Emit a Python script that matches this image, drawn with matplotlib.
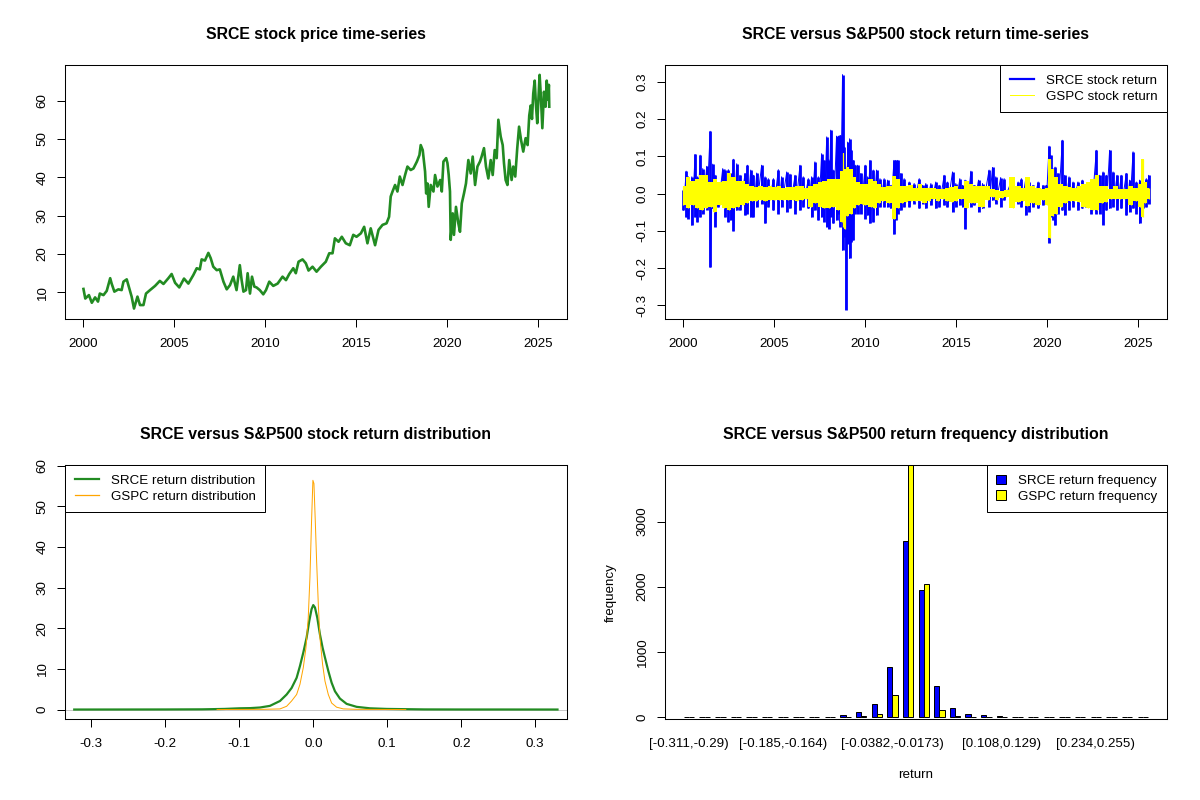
import numpy as np
import matplotlib
matplotlib.use('Agg')
import matplotlib.pyplot as plt
from matplotlib.lines import Line2D
from matplotlib.patches import Patch

plt.rcParams['font.family'] = ['Liberation Sans', 'DejaVu Sans']
plt.rcParams['axes.unicode_minus'] = False

# ---- SRCE price ----
p_year = [2000.0, 2000.1, 2000.3, 2000.46, 2000.64, 2000.8, 2000.9, 2001.1, 2001.28, 2001.47,
          2001.55, 2001.7, 2001.92, 2002.1, 2002.2, 2002.38, 2002.47, 2002.65, 2002.78, 2002.97,
          2003.11, 2003.3, 2003.44, 2003.66, 2003.94, 2004.2, 2004.4, 2004.67, 2004.85, 2005.04,
          2005.27, 2005.53, 2005.77, 2006.04, 2006.23, 2006.4, 2006.5, 2006.68, 2006.87, 2007.0,
          2007.14, 2007.33, 2007.5, 2007.7, 2007.88, 2008.06, 2008.24, 2008.42, 2008.6, 2008.7,
          2008.8, 2008.94, 2009.03, 2009.16, 2009.27, 2009.4, 2009.52, 2009.7, 2009.89, 2010.04,
          2010.22, 2010.44, 2010.68, 2010.95, 2011.14, 2011.32, 2011.54, 2011.68, 2011.83, 2012.05,
          2012.23, 2012.38, 2012.6, 2012.82, 2013.06, 2013.33, 2013.52, 2013.7, 2013.83, 2014.03,
          2014.21, 2014.43, 2014.65, 2014.84, 2015.02, 2015.26, 2015.44, 2015.62, 2015.8, 2016.04,
          2016.23, 2016.45, 2016.67, 2016.81, 2016.9, 2017.0, 2017.14, 2017.27, 2017.4, 2017.55,
          2017.69, 2017.82, 2018.0, 2018.15, 2018.34, 2018.48, 2018.55, 2018.66, 2018.79, 2018.85,
          2018.92, 2018.99, 2019.1, 2019.25, 2019.34, 2019.47, 2019.62, 2019.71, 2019.8, 2019.95,
          2020.02, 2020.09, 2020.16, 2020.2, 2020.31, 2020.38, 2020.49, 2020.62, 2020.71, 2020.81,
          2020.93, 2021.04, 2021.17, 2021.3, 2021.41, 2021.54, 2021.67, 2021.81, 2021.9, 2022.03,
          2022.14, 2022.27, 2022.4, 2022.51, 2022.62, 2022.73, 2022.82, 2022.95, 2023.06, 2023.13,
          2023.22, 2023.32, 2023.42, 2023.55, 2023.64, 2023.75, 2023.86, 2023.96, 2024.07, 2024.19,
          2024.32, 2024.43, 2024.52, 2024.6, 2024.67, 2024.74, 2024.82, 2024.89, 2024.96, 2025.04,
          2025.09, 2025.16, 2025.24, 2025.33, 2025.42, 2025.48, 2025.55, 2025.6, 2025.62]
p_value = [10.9, 8.4, 9.3, 7.3, 8.7, 7.6, 9.7, 9.3, 10.4, 13.7,
           12.3, 10.2, 10.8, 10.6, 12.8, 13.4, 11.9, 8.9, 5.8, 8.9,
           6.7, 6.7, 9.7, 10.6, 11.7, 13.0, 12.2, 13.7, 14.8, 12.5,
           11.3, 13.6, 12.3, 14.5, 16.3, 16.0, 18.6, 18.3, 20.3, 18.9,
           16.7, 15.8, 16.0, 12.8, 10.8, 11.9, 14.1, 10.6, 17.1, 13.2,
           10.2, 10.6, 15.0, 9.7, 14.1, 11.5, 11.3, 10.6, 9.5, 10.6,
           12.8, 11.7, 12.3, 14.1, 13.2, 14.8, 16.3, 15.0, 18.0, 18.6,
           17.6, 15.7, 16.7, 15.4, 16.7, 18.0, 20.2, 20.2, 24.1, 23.2,
           24.5, 22.8, 22.3, 25.0, 24.5, 25.4, 27.1, 22.8, 26.7, 22.3,
           26.3, 27.6, 28.0, 29.7, 35.0, 36.3, 38.0, 36.3, 40.2, 38.0,
           40.6, 42.8, 41.9, 42.3, 44.1, 45.8, 48.4, 47.1, 41.5, 35.8,
           38.4, 32.3, 38.0, 36.3, 40.6, 37.6, 39.3, 36.3, 44.1, 45.0,
           43.7, 40.6, 36.3, 23.7, 30.6, 25.0, 32.3, 28.0, 25.8, 33.2,
           35.8, 38.4, 44.5, 41.0, 45.4, 38.0, 42.8, 44.1, 45.4, 47.6,
           42.8, 39.7, 44.5, 40.6, 47.1, 45.0, 55.0, 50.6, 48.4, 43.7,
           39.3, 38.0, 44.5, 39.3, 42.8, 40.2, 47.6, 53.2, 49.7, 46.7,
           50.2, 48.4, 56.1, 58.7, 55.2, 61.8, 65.2, 58.7, 54.1, 61.9,
           66.7, 61.0, 52.8, 62.3, 58.4, 65.2, 60.2, 64.1, 58.4]

# ---- SRCE daily return, high / low per period ----
r_year = [2000.0, 2000.15, 2000.27, 2000.46, 2000.64, 2000.77, 2000.92, 2001.06, 2001.28, 2001.47,
          2001.61, 2001.74, 2001.92, 2002.16, 2002.29, 2002.47, 2002.6, 2002.75, 2002.93, 2003.11,
          2003.39, 2003.52, 2003.7, 2003.85, 2004.03, 2004.3, 2004.49, 2004.67, 2004.95, 2005.22,
          2005.4, 2005.68, 2005.86, 2006.14, 2006.41, 2006.59, 2006.87, 2007.05, 2007.23, 2007.42,
          2007.6, 2007.73, 2007.88, 2007.99, 2008.1, 2008.24, 2008.42, 2008.53, 2008.63, 2008.75,
          2008.85, 2008.94, 2009.03, 2009.14, 2009.23, 2009.34, 2009.45, 2009.58, 2009.76, 2010.0,
          2010.13, 2010.26, 2010.44, 2010.62, 2010.81, 2011.04, 2011.23, 2011.41, 2011.58, 2011.68,
          2011.79, 2011.96, 2012.14, 2012.42, 2012.69, 2012.97, 2013.15, 2013.33, 2013.61, 2013.88,
          2014.07, 2014.34, 2014.52, 2014.8, 2014.98, 2015.2, 2015.35, 2015.49, 2015.62, 2015.81,
          2015.99, 2016.23, 2016.45, 2016.81, 2017.0, 2017.18, 2017.45, 2017.64, 2017.95, 2018.13,
          2018.41, 2018.59, 2018.83, 2019.01, 2019.23, 2019.51, 2019.78, 2019.96, 2020.11, 2020.2,
          2020.33, 2020.44, 2020.6, 2020.84, 2020.97, 2021.21, 2021.43, 2021.7, 2021.94, 2022.16,
          2022.44, 2022.71, 2022.89, 2023.08, 2023.26, 2023.44, 2023.63, 2023.85, 2024.08, 2024.36,
          2024.54, 2024.73, 2024.91, 2025.09, 2025.27, 2025.46, 2025.59]
srce_hi = [0.010, 0.060, 0.045, 0.045, 0.105, 0.045, 0.103, 0.067, 0.073, 0.167,
           0.079, 0.049, 0.022, 0.067, 0.064, 0.064, 0.054, 0.092, 0.080, 0.049,
           0.054, 0.076, 0.063, 0.049, 0.055, 0.076, 0.045, 0.040, 0.040, 0.064,
           0.045, 0.058, 0.052, 0.049, 0.076, 0.045, 0.040, 0.045, 0.085, 0.045,
           0.107, 0.089, 0.152, 0.091, 0.170, 0.063, 0.154, 0.154, 0.156, 0.319,
           0.125, 0.071, 0.138, 0.147, 0.116, 0.089, 0.076, 0.076, 0.054, 0.076,
           0.045, 0.089, 0.063, 0.063, 0.040, 0.040, 0.036, 0.022, 0.089, 0.089,
           0.089, 0.054, 0.040, 0.031, 0.027, 0.040, 0.022, 0.027, 0.027, 0.031,
           0.022, 0.049, 0.031, 0.058, 0.027, 0.040, 0.022, 0.036, 0.020, 0.060,
           0.022, 0.036, 0.027, 0.063, 0.070, 0.045, 0.043, 0.040, 0.022, 0.036,
           0.031, 0.040, 0.040, 0.031, 0.022, 0.031, 0.022, 0.022, 0.127, 0.103,
           0.067, 0.071, 0.054, 0.143, 0.049, 0.045, 0.031, 0.031, 0.036, 0.022,
           0.036, 0.116, 0.049, 0.058, 0.049, 0.116, 0.058, 0.049, 0.049, 0.054,
           0.036, 0.112, 0.031, 0.036, 0.031, 0.040, 0.049]
srce_lo = [-0.045, -0.063, -0.067, -0.085, -0.063, -0.076, -0.063, -0.054, -0.043, -0.198,
           -0.040, -0.089, -0.036, -0.036, -0.063, -0.076, -0.071, -0.100, -0.045, -0.045,
           -0.058, -0.054, -0.063, -0.063, -0.036, -0.027, -0.080, -0.036, -0.045, -0.054,
           -0.036, -0.049, -0.040, -0.054, -0.045, -0.036, -0.040, -0.063, -0.045, -0.071,
           -0.063, -0.076, -0.089, -0.094, -0.063, -0.080, -0.071, -0.054, -0.089, -0.152,
           -0.116, -0.311, -0.134, -0.174, -0.130, -0.125, -0.054, -0.054, -0.054, -0.067,
           -0.058, -0.080, -0.076, -0.058, -0.036, -0.036, -0.036, -0.040, -0.109, -0.071,
           -0.054, -0.045, -0.036, -0.036, -0.027, -0.040, -0.027, -0.040, -0.031, -0.040,
           -0.036, -0.031, -0.036, -0.049, -0.036, -0.031, -0.036, -0.094, -0.036, -0.036,
           -0.031, -0.049, -0.040, -0.036, -0.018, -0.027, -0.036, -0.018, -0.027, -0.036,
           -0.027, -0.036, -0.058, -0.049, -0.036, -0.040, -0.031, -0.022, -0.132, -0.063,
           -0.071, -0.085, -0.054, -0.045, -0.058, -0.045, -0.036, -0.045, -0.040, -0.036,
           -0.054, -0.054, -0.054, -0.083, -0.045, -0.040, -0.036, -0.045, -0.040, -0.058,
           -0.049, -0.040, -0.054, -0.080, -0.040, -0.036, -0.027]

# ---- S&P500 (GSPC) daily return, high / low per period ----
g_year = [2000.0, 2000.25, 2000.5, 2000.75, 2001.0, 2001.25, 2001.5, 2001.7, 2002.0, 2002.25,
          2002.5, 2002.75, 2003.0, 2003.25, 2003.5, 2003.75, 2004.0, 2004.25, 2004.5, 2004.75,
          2005.0, 2005.25, 2005.5, 2005.75, 2006.0, 2006.25, 2006.5, 2006.75, 2007.0, 2007.25,
          2007.5, 2007.75, 2008.0, 2008.25, 2008.5, 2008.7, 2008.8, 2008.9, 2009.0, 2009.2,
          2009.4, 2009.6, 2009.8, 2010.0, 2010.3, 2010.5, 2010.75, 2011.0, 2011.3, 2011.6,
          2011.8, 2012.0, 2012.25, 2012.5, 2012.75, 2013.0, 2013.25, 2013.5, 2013.75, 2014.0,
          2014.25, 2014.5, 2014.75, 2015.0, 2015.25, 2015.6, 2015.8, 2016.0, 2016.4, 2016.75,
          2017.0, 2017.25, 2017.5, 2017.75, 2018.1, 2018.4, 2018.7, 2018.9, 2019.2, 2019.5,
          2019.8, 2020.0, 2020.15, 2020.3, 2020.5, 2020.75, 2021.0, 2021.25, 2021.5, 2021.75,
          2022.0, 2022.25, 2022.5, 2022.75, 2023.0, 2023.25, 2023.5, 2023.75, 2024.0, 2024.25,
          2024.6, 2024.9, 2025.1, 2025.27, 2025.4, 2025.59]
gspc_hi = [0.020, 0.045, 0.035, 0.040, 0.050, 0.050, 0.030, 0.040, 0.030, 0.035,
           0.055, 0.045, 0.035, 0.035, 0.025, 0.020, 0.018, 0.020, 0.018, 0.020,
           0.018, 0.020, 0.015, 0.018, 0.018, 0.020, 0.020, 0.016, 0.020, 0.025,
           0.030, 0.035, 0.040, 0.040, 0.040, 0.060, 0.110, 0.065, 0.070, 0.065,
           0.045, 0.030, 0.025, 0.025, 0.040, 0.035, 0.025, 0.018, 0.020, 0.047,
           0.040, 0.020, 0.020, 0.022, 0.016, 0.025, 0.016, 0.015, 0.015, 0.012,
           0.012, 0.015, 0.018, 0.020, 0.012, 0.035, 0.025, 0.020, 0.020, 0.020,
           0.012, 0.010, 0.008, 0.010, 0.045, 0.020, 0.015, 0.045, 0.020, 0.015,
           0.012, 0.015, 0.092, 0.065, 0.045, 0.025, 0.020, 0.018, 0.015, 0.020,
           0.025, 0.030, 0.040, 0.050, 0.020, 0.020, 0.012, 0.020, 0.012, 0.012,
           0.020, 0.015, 0.025, 0.092, 0.030, 0.015]
gspc_lo = [-0.030, -0.040, -0.030, -0.040, -0.045, -0.040, -0.035, -0.050, -0.030, -0.040,
           -0.045, -0.040, -0.035, -0.030, -0.025, -0.020, -0.020, -0.018, -0.020, -0.018,
           -0.017, -0.018, -0.016, -0.018, -0.016, -0.020, -0.018, -0.015, -0.035, -0.025,
           -0.035, -0.040, -0.040, -0.035, -0.045, -0.075, -0.090, -0.094, -0.060, -0.055,
           -0.040, -0.030, -0.028, -0.030, -0.035, -0.040, -0.025, -0.020, -0.025, -0.067,
           -0.040, -0.025, -0.022, -0.020, -0.020, -0.020, -0.025, -0.020, -0.015, -0.020,
           -0.015, -0.020, -0.022, -0.020, -0.015, -0.040, -0.025, -0.025, -0.035, -0.018,
           -0.010, -0.018, -0.012, -0.010, -0.040, -0.022, -0.020, -0.032, -0.025, -0.030,
           -0.018, -0.030, -0.120, -0.060, -0.055, -0.035, -0.025, -0.020, -0.020, -0.022,
           -0.035, -0.040, -0.045, -0.043, -0.025, -0.022, -0.015, -0.015, -0.015, -0.015,
           -0.030, -0.020, -0.035, -0.063, -0.025, -0.015]

# ---- return densities ----
srce_x = [-0.323, -0.25, -0.2, -0.15, -0.12, -0.1, -0.085, -0.072, -0.0586, -0.045,
          -0.036, -0.0293, -0.0225, -0.018, -0.0135, -0.009, -0.0054, -0.0023, 0.0, 0.0023,
          0.0054, 0.009, 0.0126, 0.0158, 0.0203, 0.0248, 0.0293, 0.036, 0.045, 0.0586,
          0.0766, 0.099, 0.12, 0.15, 0.2, 0.25, 0.33]
srce_d = [0.0, 0.01, 0.02, 0.05, 0.15, 0.3, 0.35, 0.5, 0.9, 2.1,
          3.7, 5.3, 7.8, 10.7, 14.0, 17.7, 21.8, 24.7, 25.7, 25.1,
          22.6, 18.5, 15.2, 12.8, 9.5, 6.6, 4.5, 2.7, 1.4, 0.66,
          0.3, 0.15, 0.1, 0.03, 0.01, 0.01, 0.0]
gspc_x = [-0.13, -0.1, -0.0676, -0.045, -0.036, -0.0293, -0.0225, -0.018, -0.0135, -0.0099,
          -0.0068, -0.0045, -0.0023, -0.0005, 0.0009, 0.0027, 0.0045, 0.0068, 0.009, 0.0126,
          0.0158, 0.0203, 0.0248, 0.0315, 0.0405, 0.0586, 0.09, 0.125]
gspc_d = [0.0, 0.02, 0.05, 0.15, 0.8, 2.1, 3.7, 6.2, 10.3, 15.2,
          22.6, 32.5, 46.5, 56.4, 55.6, 46.5, 36.6, 25.9, 17.7, 11.1,
          7.0, 3.7, 1.6, 0.58, 0.16, 0.05, 0.02, 0.0]

# ---- return frequency (30 bins) ----
bins = ['[-0.311,-0.29)', '[-0.29,-0.269)', '[-0.269,-0.248)', '[-0.248,-0.227)', '[-0.227,-0.206)',
        '[-0.206,-0.185)', '[-0.185,-0.164)', '[-0.164,-0.143)', '[-0.143,-0.122)', '[-0.122,-0.101)',
        '[-0.101,-0.0801)', '[-0.0801,-0.0592)', '[-0.0592,-0.0382)', '[-0.0382,-0.0173)', '[-0.0173,0.00369)',
        '[0.00369,0.0246)', '[0.0246,0.0456)', '[0.0456,0.0666)', '[0.0666,0.0875)', '[0.0875,0.108)',
        '[0.108,0.129)', '[0.129,0.15)', '[0.15,0.171)', '[0.171,0.192)', '[0.192,0.213)',
        '[0.213,0.234)', '[0.234,0.255)', '[0.255,0.276)', '[0.276,0.297)', '[0.297,0.319]']
srce_freq = [1, 0, 0, 0, 0, 0, 1, 2, 4, 6, 30, 72, 200, 770, 2708,
             1954, 477, 138, 46, 31, 12, 6, 5, 1, 0, 0, 0, 0, 0, 1]
gspc_freq = [0, 0, 0, 0, 0, 0, 0, 0, 0, 1, 3, 15, 46, 333, 3900,
             2041, 103, 15, 6, 2, 0, 0, 0, 0, 0, 0, 0, 0, 0, 0]

FS = 9.6
TFS = 11.45
GREEN = '#228B22'


def style(ax, title):
    for s in ax.spines.values():
        s.set_linewidth(0.75)
    ax.tick_params(axis='x', direction='out', length=5.76, width=0.72, pad=8.1, labelsize=FS)
    ax.tick_params(axis='y', direction='out', length=5.76, width=0.72, pad=6.1, labelsize=FS,
                   labelrotation=90)
    ax.annotate(title, xy=(0.5, 1), xycoords='axes fraction', xytext=(0, 22),
                textcoords='offset points', ha='center', va='center',
                fontsize=TFS, fontweight='bold')


def legend(ax, handles, labels, loc, **kw):
    leg = ax.legend(handles, labels, loc=loc, fontsize=FS, frameon=True, fancybox=False,
                    edgecolor='black', framealpha=1, borderaxespad=0, borderpad=0.7,
                    labelspacing=0.25, handletextpad=0.9, **kw)
    leg.get_frame().set_linewidth(0.72)
    leg.set_zorder(10)
    return leg


fig = plt.figure(figsize=(12, 8), dpi=100)
ax1 = fig.add_axes([0.0544, 0.6014, 0.4177, 0.317])
ax2 = fig.add_axes([0.5544, 0.6014, 0.4177, 0.317])
ax3 = fig.add_axes([0.0544, 0.1014, 0.4177, 0.317])
ax4 = fig.add_axes([0.5544, 0.1014, 0.4177, 0.317])

# price
ax1.plot(p_year, p_value, color=GREEN, lw=1.9)
ax1.set_xlim(1999.0, 2026.57)
ax1.set_ylim(3.1, 69.2)
ax1.set_xticks(range(2000, 2026, 5))
ax1.set_yticks(range(10, 61, 10))
style(ax1, 'SRCE stock price time-series')

# returns: SRCE spikes in blue, S&P500 band in yellow on top
ax2.vlines(r_year, srce_lo, srce_hi, color='blue', lw=2.0, zorder=2)
ax2.plot(np.repeat(r_year, 2), np.column_stack([srce_hi, srce_lo]).ravel(), color='blue',
         lw=0.7, zorder=2)
ax2.fill_between(g_year, gspc_lo, gspc_hi, step='mid', color='yellow', lw=0, zorder=3)
ax2.vlines(g_year, gspc_lo, gspc_hi, color='yellow', lw=0.9, zorder=3)
ax2.set_xlim(1999.0, 2026.57)
ax2.set_ylim(-0.336, 0.344)
ax2.set_xticks(range(2000, 2026, 5))
ax2.set_yticks(np.arange(-3, 4) / 10)
ax2.set_yticklabels(['%.1f' % v for v in np.arange(-3, 4) / 10])
style(ax2, 'SRCE versus S&P500 stock return time-series')
legend(ax2, [Line2D([], [], color='blue', lw=1.6), Line2D([], [], color='yellow', lw=0.72)],
       ['SRCE stock return', 'GSPC stock return'], 'upper right', handlelength=1.8)

# densities
ax3.axhline(0, color='#BEBEBE', lw=0.6, zorder=1)
ax3.plot(srce_x, srce_d, color=GREEN, lw=1.6)
ax3.plot(gspc_x, gspc_d, color='orange', lw=0.72)
ax3.set_xlim(-0.3351, 0.3422)
ax3.set_ylim(-2.3, 60.1)
ax3.set_xticks(np.arange(-3, 4) / 10)
ax3.set_xticklabels(['%.1f' % v for v in np.arange(-3, 4) / 10])
ax3.set_yticks(range(0, 61, 10))
style(ax3, 'SRCE versus S&P500 stock return distribution')
legend(ax3, [Line2D([], [], color=GREEN, lw=1.6), Line2D([], [], color='orange', lw=0.9)],
       ['SRCE return distribution', 'GSPC return distribution'], 'upper left', handlelength=1.8)

# frequency bars
k = np.arange(len(bins))
ax4.bar(1 + 3 * k, srce_freq, width=1, align='edge', color='blue', edgecolor='black', lw=0.72)
ax4.bar(2 + 3 * k, gspc_freq, width=1, align='edge', color='yellow', edgecolor='black', lw=0.72)
ax4.set_xlim(-2.56, 93.56)
ax4.set_ylim(-26, 3862)
ax4.set_yticks(range(0, 3001, 1000))
ax4.set_xticks(2 + 3 * k)
ax4.set_xticklabels(bins)
style(ax4, 'SRCE versus S&P500 return frequency distribution')
ax4.tick_params(axis='x', length=0, pad=13.8)
ax4.annotate('return', xy=(0.5, 0), xycoords='axes fraction', xytext=(0, -40.1),
             textcoords='offset points', ha='center', va='center', fontsize=FS)
ax4.annotate('frequency', xy=(0, 0.5), xycoords='axes fraction', xytext=(-39.2, 0),
             textcoords='offset points', ha='center', va='center', rotation=90, fontsize=FS)
legend(ax4, [Patch(facecolor='blue', edgecolor='black', lw=0.72),
             Patch(facecolor='yellow', edgecolor='black', lw=0.72)],
       ['SRCE return frequency', 'GSPC return frequency'], 'upper right',
       handlelength=0.75, handleheight=0.75)

for ax in (ax1, ax2, ax3, ax4):
    plt.setp(ax.get_yticklabels(), va='center')

# drop bar names that would collide, like R's axis()
fig.canvas.draw()
renderer = fig.canvas.get_renderer()
last_right = -1e9
for lab in ax4.get_xticklabels():
    bb = lab.get_window_extent(renderer)
    if bb.x0 >= last_right + 4:
        last_right = bb.x1
    else:
        lab.set_visible(False)

plt.savefig('out.png', dpi=100)
